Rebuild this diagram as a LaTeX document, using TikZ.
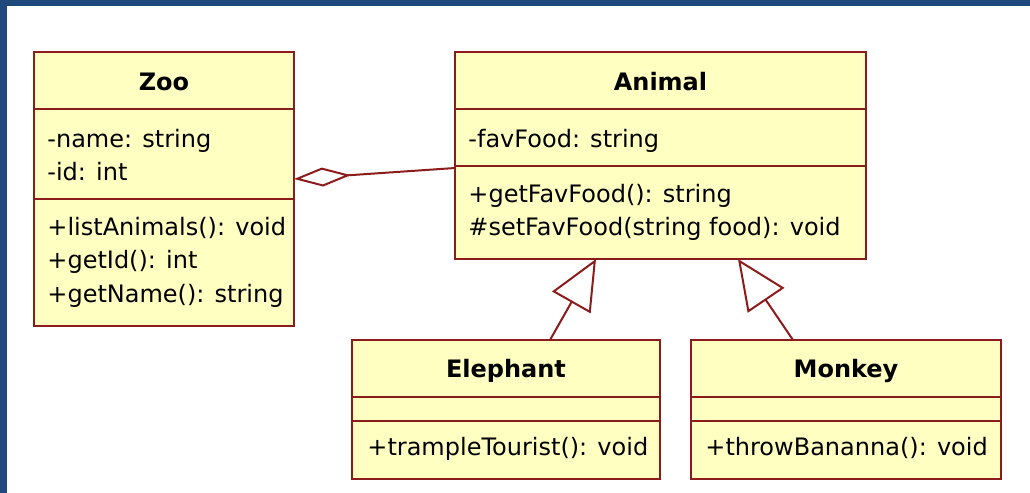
\documentclass[tikz,border=0pt]{standalone}
\usepackage{fontspec}
\setmainfont{DejaVu Sans}
\usetikzlibrary{arrows.meta,calc}
\definecolor{umlred}{RGB}{140,28,28}
\definecolor{umlfill}{RGB}{255,255,194}
\definecolor{frameblue}{RGB}{31,72,124}

\begin{document}
\begin{tikzpicture}[x=0.5pt,y=-0.5pt,
  classbox/.style={draw=umlred,fill=umlfill,line width=1pt,anchor=north west,
    inner sep=0pt,outer sep=0pt},
  divider/.style={draw=umlred,line width=1pt},
  title/.style={anchor=base,inner sep=0pt,font=\fontsize{12pt}{14pt}\selectfont\bfseries},
  member/.style={anchor=base west,inner sep=0pt,font=\fontsize{12pt}{14pt}\selectfont},
  inherit/.style={draw=umlred,line width=1pt,
    -{Triangle[length=25pt,width=22pt,fill=white]}},
  aggr/.style={draw=umlred,line width=1pt,
    {Diamond[length=28.5pt,width=9.5pt,fill=white]}-}]

\useasboundingbox (0,0) rectangle (1030,493);
\fill[white] (0,0) rectangle (1030,493);
% window frame
\fill[frameblue] (0,0) rectangle (1030,6);
\fill[frameblue] (0,0) rectangle (7,493);

% class boxes
\node[classbox,minimum width=130pt,minimum height=137pt] (zoo) at (34,52) {};
\node[classbox,minimum width=205.5pt,minimum height=103.5pt] (animal) at (455,52) {};
\node[classbox,minimum width=154pt,minimum height=69.5pt] (elephant) at (352,340) {};
\node[classbox,minimum width=155pt,minimum height=69.5pt] (monkey) at (691,340) {};

% compartment dividers
\draw[divider] (zoo.west |- 0,109) -- (zoo.east |- 0,109);
\draw[divider] (zoo.west |- 0,199) -- (zoo.east |- 0,199);
\draw[divider] (animal.west |- 0,109) -- (animal.east |- 0,109);
\draw[divider] (animal.west |- 0,166) -- (animal.east |- 0,166);
\draw[divider] (elephant.west |- 0,397) -- (elephant.east |- 0,397);
\draw[divider] (elephant.west |- 0,421) -- (elephant.east |- 0,421);
\draw[divider] (monkey.west |- 0,397) -- (monkey.east |- 0,397);
\draw[divider] (monkey.west |- 0,421) -- (monkey.east |- 0,421);

% Zoo
\node[title] (zoo-t) at (zoo.north |- 0,90) {Zoo};
\node[member] (zoo-a1) at (47,147) {-name: string};
\node[member] (zoo-a2) at (47,180) {-id: int};
\node[member] (zoo-m1) at (47,235) {+listAnimals(): void};
\node[member] (zoo-m2) at (47,268) {+getId(): int};
\node[member] (zoo-m3) at (47,302) {+getName(): string};

% Animal
\node[title] (animal-t) at (animal.north |- 0,90) {Animal};
\node[member] (animal-a1) at (468,147) {-favFood: string};
\node[member] (animal-m1) at (468,202) {+getFavFood(): string};
\node[member] (animal-m2) at (468,235) {\#setFavFood(string food): void};

% Elephant
\node[title] (elephant-t) at (elephant.north |- 0,377) {Elephant};
\node[member] (elephant-m1) at (367,455) {+trampleTourist(): void};

% Monkey
\node[title] (monkey-t) at (monkey.north |- 0,377) {Monkey};
\node[member] (monkey-m1) at (705,455) {+throwBananna(): void};

% aggregation Zoo <>-- Animal
\draw[aggr] ($(zoo.north east)+(0,127)$) -- ($(animal.north west)+(0,116)$);

% generalisations
\draw[inherit] ($(elephant.north west)+(198,0)$) -- ($(animal.south west)+(141,0)$);
\draw[inherit] ($(monkey.north west)+(102,0)$) -- ($(animal.south west)+(283,0)$);
\end{tikzpicture}
\end{document}
